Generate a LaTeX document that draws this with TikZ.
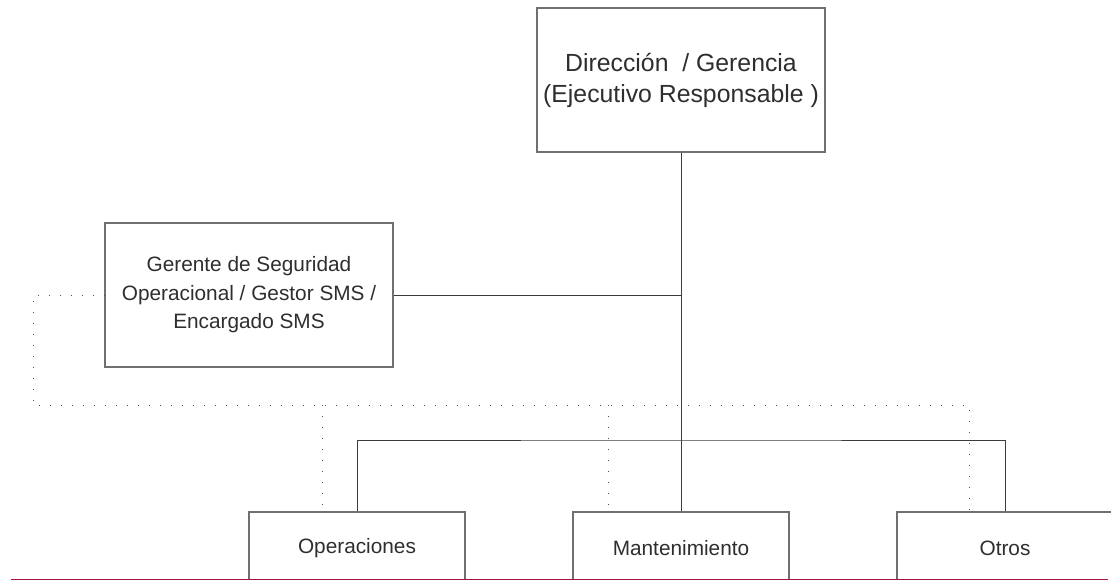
\documentclass[tikz,border=0pt]{standalone}
\usepackage{fontspec}
\setmainfont{Liberation Sans}
\definecolor{linegray}{HTML}{3C3C3C}
\definecolor{boxgray}{HTML}{707070}
\definecolor{textgray}{HTML}{2E2E2E}
\definecolor{dotgray}{HTML}{505050}
\definecolor{edgered}{HTML}{A8123E}

\tikzset{
  unitbox/.style={draw=boxgray,line width=1.1pt,inner sep=0pt,align=center,text=textgray},
  bigbox/.style={unitbox,minimum width=288pt,minimum height=144pt,font=\fontsize{24.8}{31}\selectfont},
  midbox/.style={unitbox,minimum width=288pt,minimum height=144pt,font=\fontsize{20.8}{28.5}\selectfont},
  lowbox/.style={unitbox,minimum width=216pt,minimum height=72pt,font=\fontsize{20.8}{25}\selectfont},
  orgline/.style={draw=linegray,line width=0.9pt},
  dotline/.style={draw=dotgray,line width=0.9pt,dash pattern=on 0.9pt off 10.1pt}
}

\begin{document}
\begin{tikzpicture}[x=1pt,y=-1pt]
\useasboundingbox (0,0) rectangle (1111,580);
% boxes
\node[bigbox] (dir) at (681,80) {Dirección\ \ / Gerencia\\(Ejecutivo Responsable )};
\node[midbox] (ger) at (249,295) {Gerente de Seguridad\\Operacional / Gestor SMS /\\Encargado SMS};
\node[lowbox] (oper) at (357,548) {Operaciones};
\node[lowbox] (mant) at (681,548) {Mantenimiento};
\node[lowbox] (otros) at (1005,548) {Otros};
% solid lines
\coordinate (bus) at (681,440);
\draw[orgline] (dir.south) -- (mant.north);
\draw[orgline] (ger.east) -- (ger.east -| dir.south);
\draw[orgline] (oper.north) |- (bus) -| (otros.north);
% dotted lines
\coordinate (dl) at (33,405);
\coordinate (dr) at (969,405);
\coordinate (d1) at (322,405);
\coordinate (d2) at (608,405);
\draw[dotline] (ger.west) -| (dl) -- (dr) -- (dr |- otros.north);
\draw[dotline] (d1) -- (d1 |- oper.north);
\draw[dotline] (d2) -- (d2 |- mant.north);
% bottom edge
\draw[edgered,line width=1.2pt] (11,579.4) -- (1108,579.4);
\end{tikzpicture}
\end{document}
